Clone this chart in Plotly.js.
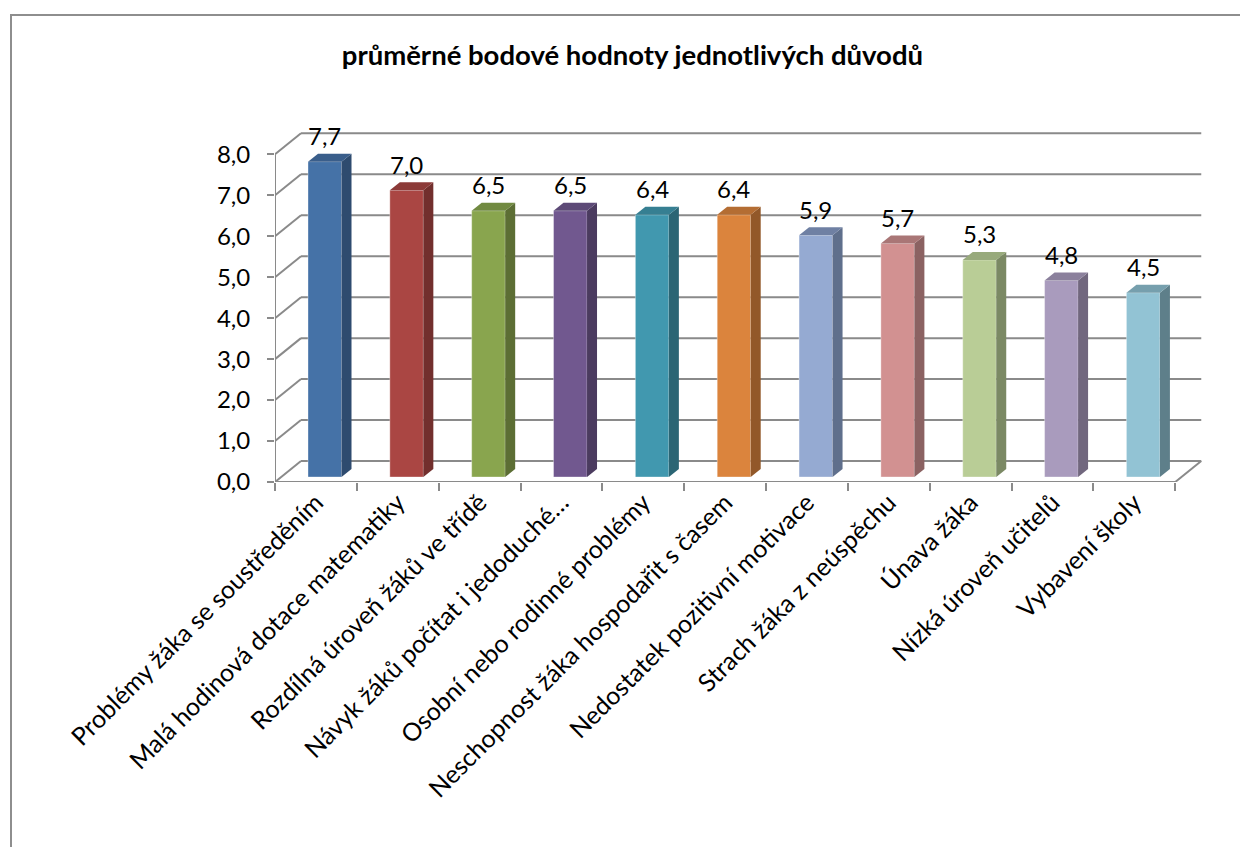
<!DOCTYPE html>
<html>
<head>
<meta charset="utf-8">
<script src="https://cdn.plot.ly/plotly-3.0.1.min.js"></script>
<style>
  html, body { margin: 0; padding: 0; background: #ffffff; }
  #chart { position: absolute; left: 0; top: 0; width: 1240px; height: 847px; }
  #frame { position: absolute; left: 10px; top: 14px; width: 1240px; height: 847px;
           border-left: 2px solid #8e8e8e; border-top: 2px solid #8e8e8e; pointer-events: none; }
</style>
</head>
<body>
<div id="chart"></div>
<div id="frame"></div>
<script>
// Reasons and their average scores
const categories = [
  "Problémy žáka se soustředěním",
  "Malá hodinová dotace matematiky",
  "Rozdílná úroveň žáků ve třídě",
  "Návyk žáků počítat i jedoduché…",
  "Osobní nebo rodinné problémy",
  "Neschopnost žáka hospodařit s časem",
  "Nedostatek pozitivní motivace",
  "Strach žáka z neúspěchu",
  "Únava žáka",
  "Nízká úroveň učitelů",
  "Vybavení školy"
];
const values = [7.7, 7.0, 6.5, 6.5, 6.4, 6.4, 5.9, 5.7, 5.3, 4.8, 4.5];
const yTicks = [0, 1, 2, 3, 4, 5, 6, 7, 8];

// Face colours of the boxes: front, right side, top
const frontColors = ["#4572A7", "#AA4643", "#89A54E", "#71588F", "#4198AF", "#DB843D",
                     "#95AAD2", "#D29191", "#B9CD96", "#A99BBD", "#92C3D4"];
const sideColors  = ["#2E4B6F", "#722F2D", "#5C6E34", "#4B3B5F", "#2B6574", "#925829",
                     "#5F6F8C", "#8B6262", "#7B8964", "#71677E", "#5E7F8A"];
const topColors   = ["#3A5E8B", "#8C3A38", "#718A41", "#5D4A77", "#367F92", "#B46D33",
                     "#6F80A3", "#A97676", "#98AA7C", "#8B809C", "#769FAD"];

// Pixel scale of the axes (used to express the perspective offsets in data units)
const W = 1240, H = 847;
const M = { l: 275, r: 32, t: 97, b: 365 };
const X_RANGE = [0, 11.4];
const Y_RANGE = [0, 9.4];
const pxX = (W - M.l - M.r) / (X_RANGE[1] - X_RANGE[0]);
const pxY = (H - M.t - M.b) / (Y_RANGE[1] - Y_RANGE[0]);

// Back wall depth and box depth
const wallDX = 26 / pxX, wallDY = 21 / pxY;
const boxDX = 10 / pxX, boxDY = 8 / pxY;
const barBase = 5 / pxY;
const barLeft = 33 / pxX, barWidth = 33.5 / pxX;
const nCat = categories.length;

const gridColor = "#8a8a8a";
const shapes = [];

// Back wall gridlines and the slanted lines on the left side wall
yTicks.forEach(v => {
  shapes.push({ type: "line", layer: "below", xref: "x", yref: "y",
    x0: wallDX, x1: nCat + wallDX, y0: v + wallDY, y1: v + wallDY,
    line: { color: gridColor, width: 2 } });
  shapes.push({ type: "line", layer: "below", xref: "x", yref: "y",
    x0: 0, x1: wallDX, y0: v, y1: v + wallDY,
    line: { color: gridColor, width: 2 } });
});
// Vertical value axis at the front
shapes.push({ type: "line", layer: "below", xref: "x", yref: "y",
  x0: 0, x1: 0, y0: 0, y1: yTicks[yTicks.length - 1],
  line: { color: gridColor, width: 2 } });
// Floor: front edge and right edge
shapes.push({ type: "line", layer: "below", xref: "x", yref: "y",
  x0: 0, x1: nCat, y0: 0, y1: 0, line: { color: gridColor, width: 2 } });
shapes.push({ type: "line", layer: "below", xref: "x", yref: "y",
  x0: nCat, x1: nCat + wallDX, y0: 0, y1: wallDY, line: { color: gridColor, width: 2 } });

const centers = categories.map((_, i) => i + barLeft + barWidth / 2);

// Front faces
const traces = [{
  type: "bar",
  x: centers,
  y: values,
  base: values.map(() => barBase),
  width: barWidth,
  marker: { color: frontColors, line: { color: "rgba(255,255,255,0.35)", width: 1 } },
  hoverinfo: "skip",
  showlegend: false
}];

// Side and top faces
values.forEach((v, i) => {
  const L = i + barLeft, R = L + barWidth;
  const b = barBase, t = barBase + v;
  traces.push({
    type: "scatter", mode: "lines", fill: "toself",
    x: [R, R + boxDX, R + boxDX, R, R],
    y: [b, b + boxDY, t + boxDY, t, b],
    fillcolor: sideColors[i], line: { width: 0, color: sideColors[i] },
    hoverinfo: "skip", showlegend: false
  });
  traces.push({
    type: "scatter", mode: "lines", fill: "toself",
    x: [L, L + boxDX, R + boxDX, R, L],
    y: [t, t + boxDY, t + boxDY, t, t],
    fillcolor: topColors[i], line: { width: 0, color: topColors[i] },
    hoverinfo: "skip", showlegend: false
  });
});

const FONT = "Lato, 'Open Sans', sans-serif";

// Value labels above the boxes
const annotations = values.map((v, i) => ({
  x: centers[i], y: barBase + v, xref: "x", yref: "y",
  text: v.toFixed(1).replace(".", ","),
  showarrow: false, yanchor: "middle", xanchor: "center", yshift: 26,
  font: { family: FONT, size: 24, color: "#000000" }
}));

const layout = {
  width: W, height: H,
  margin: M,
  paper_bgcolor: "#ffffff", plot_bgcolor: "rgba(0,0,0,0)",
  separators: ", ",
  showlegend: false,
  title: {
    text: "průměrné bodové hodnoty jednotlivých důvodů",
    font: { family: FONT, size: 27.5, color: "#000000", weight: "bold" },
    xref: "container", yref: "container", x: 0.51, y: 1 - 55 / H,
    xanchor: "center", yanchor: "middle"
  },
  xaxis: {
    range: X_RANGE, fixedrange: true,
    tickmode: "array", tickvals: categories.map((_, i) => i + 0.5), ticktext: categories,
    tickangle: -45, ticks: "", showgrid: false, zeroline: false, showline: false,
    tickfont: { family: FONT, size: 25, color: "#000000" },
    minor: { tickmode: "linear", tick0: 0, dtick: 1, ticks: "outside", ticklen: 8,
             tickwidth: 2, tickcolor: gridColor, showgrid: false }
  },
  yaxis: {
    range: Y_RANGE, fixedrange: true,
    tickmode: "array", tickvals: yTicks,
    ticktext: yTicks.map(v => v.toFixed(1).replace(".", ",")),
    ticks: "outside", ticklen: 7, tickwidth: 2, tickcolor: gridColor,
    ticklabelstandoff: 12,
    showgrid: false, zeroline: false, showline: false,
    tickfont: { family: FONT, size: 24, color: "#000000" }
  },
  shapes: shapes,
  annotations: annotations
};

Plotly.newPlot("chart", traces, layout, { staticPlot: true, displayModeBar: false });
</script>
</body>
</html>
